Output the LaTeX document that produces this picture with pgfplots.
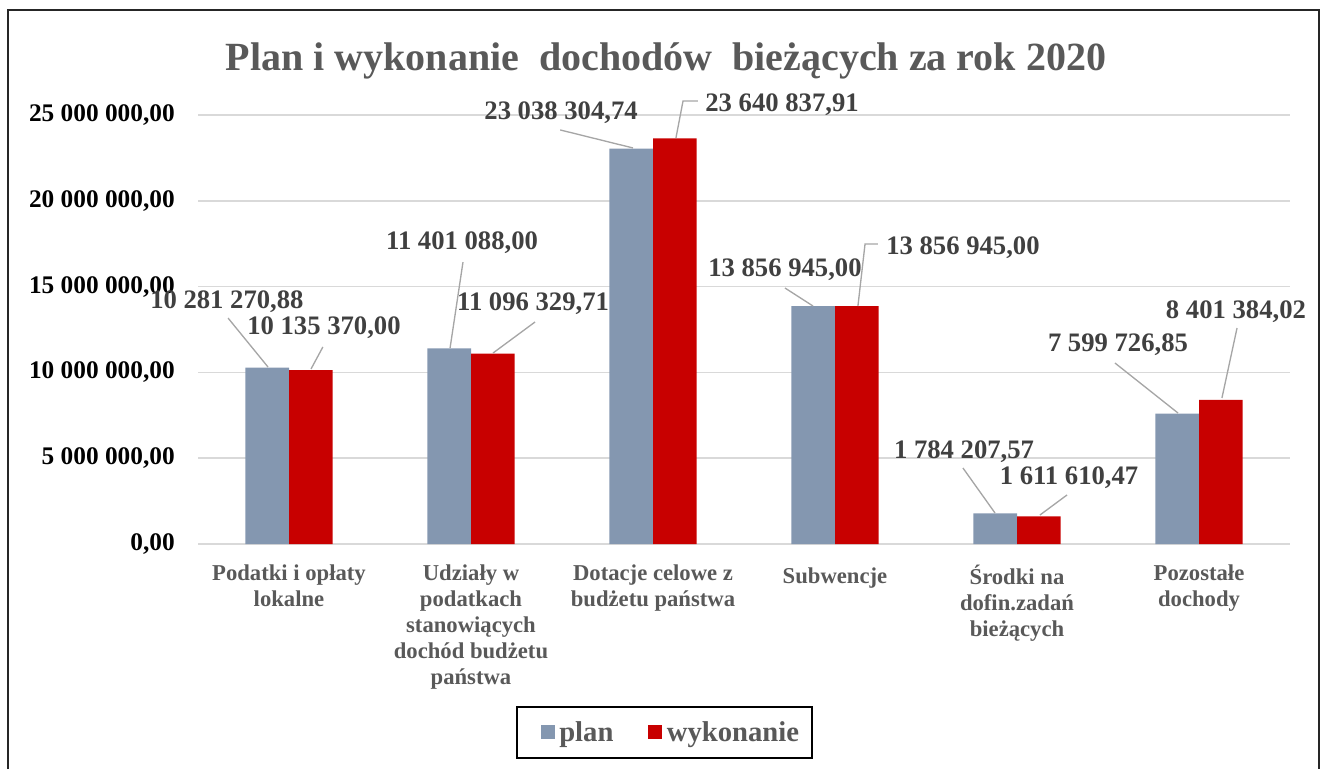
\documentclass[border=0pt]{standalone}
\usepackage{pgfplots}
\pgfplotsset{compat=1.18}
\usepackage{fontspec}
\setmainfont{Liberation Serif}
\definecolor{planc}{HTML}{8497B0}
\definecolor{wykc}{HTML}{C80000}
\definecolor{gridc}{HTML}{D9D9D9}
\definecolor{titlec}{HTML}{595959}
\definecolor{labc}{HTML}{404040}
\definecolor{leadc}{HTML}{A6A6A6}
\pgfplotsset{sqlegend/.style={legend image code/.code={\fill[##1,draw=none] (10pt,-5pt) rectangle (20.5pt,5.5pt); \path[draw=none,fill=none] (0pt,0pt) rectangle (22pt,0.1pt);}}}
\begin{document}
\begin{tikzpicture}
\useasboundingbox (0,0) rectangle (994.5pt,-576.75pt);
\draw[line width=2pt, black!85] (6pt,-576.75pt) -- (6pt,-7.5pt) -- (989.25pt,-7.5pt) -- (989.25pt,-576.75pt);
\node[anchor=base, font=\fontsize{30}{36}\selectfont\bfseries, text=titlec, inner sep=0pt] at (499.5pt,-53pt) {Plan i wykonanie\ \ dochodów\ \ bieżących za rok 2020};
\begin{axis}[
  at={(148.5pt,-408pt)}, anchor=south west,
  scale only axis, width=819pt, height=321.75pt,
  xmin=-0.5, xmax=5.5, ymin=0, ymax=25000000,
  clip=false,
  axis line style={draw=none},
  major tick length=0pt,
  scaled y ticks=false,
  ymajorgrids, grid style={gridc, line width=1.3pt},
  ytick={0,5000000,10000000,15000000,20000000,25000000},
  yticklabels={{0,00},{5 000 000,00},{10 000 000,00},{15 000 000,00},{20 000 000,00},{25 000 000,00}},
  yticklabel style={font=\fontsize{19}{21}\selectfont\bfseries, text=black, inner sep=0pt, anchor=east, xshift=-17.25pt},
  xtick={0,1,2,3,4,5},
  xticklabels={{Podatki i opłaty\\lokalne},{Udziały w\\podatkach\\stanowiących\\dochód budżetu\\państwa},{Dotacje celowe z\\budżetu państwa},{Subwencje},{Środki na\\dofin.zadań\\bieżących},{Pozostałe\\dochody}},
  xticklabel style={align=center, font=\fontsize{17}{19.5}\selectfont\bfseries, text=titlec, anchor=north, inner sep=0pt, yshift=-15.5pt, execute at begin node=\strut},
  legend columns=2,
  legend style={at={(0.4272,-0.4394)}, anchor=center, draw=black, line width=1.5pt, inner xsep=8pt, inner ysep=9pt,
    font=\fontsize{21.5}{24}\selectfont\bfseries, text=titlec,
    /tikz/every even column/.append style={column sep=14pt}},
]
\addplot[ybar, fill=planc, draw=none, bar width=0.24, bar shift=-0.12, sqlegend]
  coordinates {(0,10281270.88) (1,11401088.00) (2,23038304.74) (3,13856945.00) (4,1784207.57) (5,7599726.85)};
\addlegendentry{plan}
\addplot[ybar, fill=wykc, draw=none, bar width=0.24, bar shift=0.12, sqlegend]
  coordinates {(0,10135370.00) (1,11096329.71) (2,23640837.91) (3,13856945.00) (4,1611610.47) (5,8401384.02)};
\addlegendentry{wykonanie}

\begin{scope}[every node/.style={font=\fontsize{20}{24}\selectfont\bfseries, text=labc, inner sep=0pt, anchor=center}]
\node at (axis cs:-0.341,14100000) {10 281 270,88};
\node at (axis cs:0.192,12590000) {10 135 370,00};
\node at (axis cs:0.951,17540000) {11 401 088,00};
\node at (axis cs:1.341,13990000) {11 096 329,71};
\node at (axis cs:1.495,25120000) {23 038 304,74};
\node at (axis cs:2.709,25580000) {23 640 837,91};
\node at (axis cs:2.725,15970000) {13 856 945,00};
\node at (axis cs:3.703,17250000) {13 856 945,00};
\node at (axis cs:3.709,5360000) {1 784 207,57};
\node at (axis cs:4.286,3850000) {1 611 610,47};
\node at (axis cs:4.555,11600000) {7 599 726,85};
\node at (axis cs:5.203,13520000) {8 401 384,02};
\end{scope}
\begin{scope}[leadc, line width=1pt]
\draw (axis cs:-0.335,13170000) -- (axis cs:-0.115,10310000);
\draw (axis cs:0.186,11480000) -- (axis cs:0.121,10200000);
\draw (axis cs:0.956,16430000) -- (axis cs:0.885,11420000);
\draw (axis cs:1.352,12940000) -- (axis cs:1.121,11130000);
\draw (axis cs:1.490,24130000) -- (axis cs:1.890,23080000);
\draw (axis cs:2.247,25820000) -- (axis cs:2.165,25820000) -- (axis cs:2.126,23660000);
\draw (axis cs:2.725,14920000) -- (axis cs:2.879,13870000);
\draw (axis cs:3.236,17480000) -- (axis cs:3.165,17480000) -- (axis cs:3.126,13870000);
\draw (axis cs:3.703,4430000) -- (axis cs:3.879,1810000);
\draw (axis cs:4.275,2860000) -- (axis cs:4.126,1690000);
\draw (axis cs:4.538,10550000) -- (axis cs:4.885,7630000);
\draw (axis cs:5.209,12590000) -- (axis cs:5.126,8510000);
\end{scope}
\end{axis}
\end{tikzpicture}
\end{document}
